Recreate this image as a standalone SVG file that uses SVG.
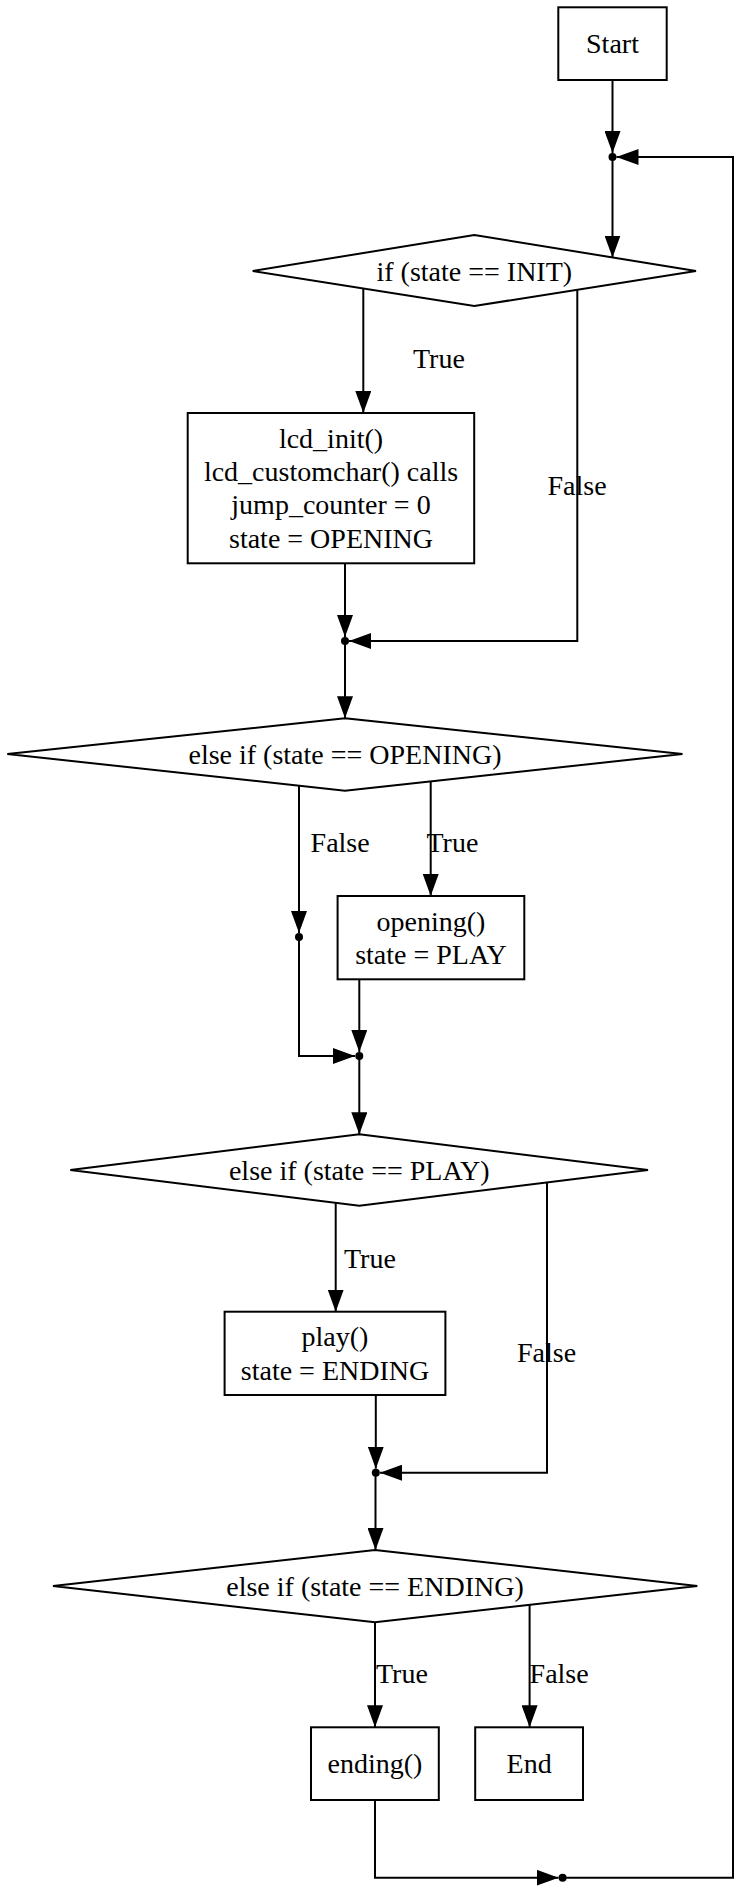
<svg xmlns="http://www.w3.org/2000/svg" width="740" height="1890" viewBox="0 0 740 1890">
<style>
  .shape { fill: #ffffff; stroke: #000000; stroke-width: 2; }
  .txt { font-family: "Liberation Serif", "Times New Roman", serif; font-size: 28px; fill: #000000; }
  .mid { text-anchor: middle; }
  .edge { fill: none; stroke: #000000; stroke-width: 2; }
  .dot { fill: #000000; stroke: none; }
</style>
<defs>
  <marker id="arr" markerUnits="userSpaceOnUse" markerWidth="22" markerHeight="16" refX="22" refY="8" orient="auto">
    <path d="M0,0 L22,8 L0,16 z" fill="#000000"/>
  </marker>
</defs>
<rect width="740" height="1890" fill="#ffffff"/>

<g id="connectors">
  <path class="edge" d="M612.5,80 L612.5,153" marker-end="url(#arr)"/>
  <path class="edge" d="M612.5,157 L612.5,257.5" marker-end="url(#arr)"/>
  <path class="edge" d="M363.3,288.5 L363.3,413" marker-end="url(#arr)"/>
  <path class="edge" d="M577.3,289.7 L577.3,641 L349,641" marker-end="url(#arr)"/>
  <path class="edge" d="M345,563 L345,637" marker-end="url(#arr)"/>
  <path class="edge" d="M345,641 L345,718.3" marker-end="url(#arr)"/>
  <path class="edge" d="M299,785 L299,933" marker-end="url(#arr)"/>
  <path class="edge" d="M430.7,781 L430.7,896" marker-end="url(#arr)"/>
  <path class="edge" d="M299,937 L299,1056 L355,1056" marker-end="url(#arr)"/>
  <path class="edge" d="M359.3,979.3 L359.3,1052" marker-end="url(#arr)"/>
  <path class="edge" d="M359.3,1056 L359.3,1134.3" marker-end="url(#arr)"/>
  <path class="edge" d="M335.7,1202.8 L335.7,1311.7" marker-end="url(#arr)"/>
  <path class="edge" d="M547,1182.5 L547,1472.7 L380,1472.7" marker-end="url(#arr)"/>
  <path class="edge" d="M375.8,1395 L375.8,1468.7" marker-end="url(#arr)"/>
  <path class="edge" d="M375.5,1472.7 L375.5,1550" marker-end="url(#arr)"/>
  <path class="edge" d="M375,1622.3 L375,1727.3" marker-end="url(#arr)"/>
  <path class="edge" d="M529.6,1604.7 L529.6,1727.3" marker-end="url(#arr)"/>
  <path class="edge" d="M375,1800 L375,1877.7 L558.6,1877.7" marker-end="url(#arr)"/>
  <path class="edge" d="M562.6,1877.7 L733,1877.7 L733,157 L616.5,157" marker-end="url(#arr)"/>
  <circle class="dot" cx="612.5" cy="157" r="4"/>
  <circle class="dot" cx="345" cy="641" r="4"/>
  <circle class="dot" cx="299" cy="937" r="4"/>
  <circle class="dot" cx="359.3" cy="1056" r="4"/>
  <circle class="dot" cx="375.8" cy="1472.7" r="4"/>
  <circle class="dot" cx="562.6" cy="1877.7" r="4"/>
  <text class="txt" x="413" y="368">True</text>
  <text class="txt" x="547.5" y="495">False</text>
  <text class="txt" x="310.6" y="851.7">False</text>
  <text class="txt" x="426.5" y="851.7">True</text>
  <text class="txt" x="344" y="1267.7">True</text>
  <text class="txt" x="517" y="1361.7">False</text>
  <text class="txt" x="376" y="1683">True</text>
  <text class="txt" x="529.6" y="1683">False</text>
</g>

<g id="start">
  <rect class="shape" x="558.3" y="7.3" width="108.4" height="72.7"/>
  <text class="txt mid" x="612.5" y="53">Start</text>
</g>

<g id="cond_init">
  <polygon class="shape" points="474.3,235 696,271 474.3,306 252.7,271"/>
  <text class="txt mid" x="474.3" y="280.5">if (state == INIT)</text>
</g>

<g id="init_block">
  <rect class="shape" x="187.7" y="413" width="286.5" height="150.3"/>
  <text class="txt mid" x="331" y="447.6">lcd_init()</text>
  <text class="txt mid" x="331" y="480.9">lcd_customchar() calls</text>
  <text class="txt mid" x="331" y="514.2">jump_counter = 0</text>
  <text class="txt mid" x="331" y="547.5">state = OPENING</text>
</g>

<g id="cond_opening">
  <polygon class="shape" points="345,718.3 682.5,754 345,790.7 7.3,754"/>
  <text class="txt mid" x="345" y="763.5">else if (state == OPENING)</text>
</g>

<g id="opening_block">
  <rect class="shape" x="337.6" y="896" width="186.7" height="83.3"/>
  <text class="txt mid" x="431" y="930.8">opening()</text>
  <text class="txt mid" x="431" y="964">state = PLAY</text>
</g>

<g id="cond_play">
  <polygon class="shape" points="359.3,1134.3 648,1170 359.3,1205.7 70.3,1170"/>
  <text class="txt mid" x="359.3" y="1179.5">else if (state == PLAY)</text>
</g>

<g id="play_block">
  <rect class="shape" x="224.6" y="1311.7" width="220.8" height="83.3"/>
  <text class="txt mid" x="335" y="1346.3">play()</text>
  <text class="txt mid" x="335" y="1379.6">state = ENDING</text>
</g>

<g id="cond_ending">
  <polygon class="shape" points="375,1550 697.3,1586 375,1622.3 53,1586"/>
  <text class="txt mid" x="375" y="1595.5">else if (state == ENDING)</text>
</g>

<g id="ending_block">
  <rect class="shape" x="311" y="1727.3" width="127.8" height="72.7"/>
  <text class="txt mid" x="375" y="1773">ending()</text>
</g>

<g id="end">
  <rect class="shape" x="475.2" y="1727.3" width="107.8" height="72.7"/>
  <text class="txt mid" x="529.1" y="1773">End</text>
</g>
</svg>
